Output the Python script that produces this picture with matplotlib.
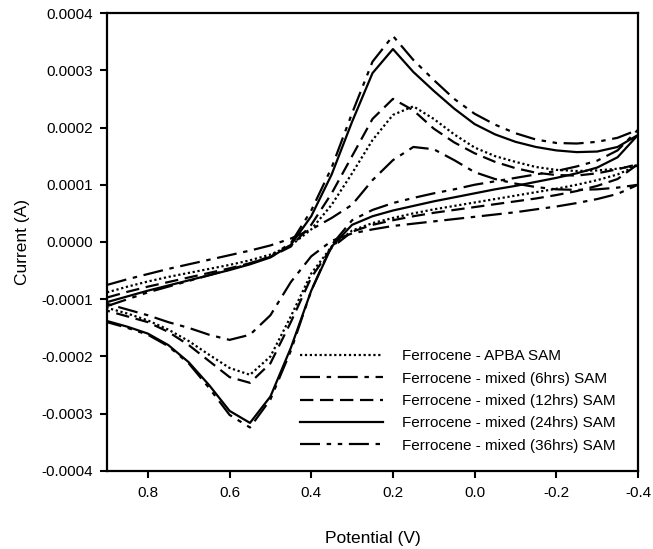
import matplotlib
matplotlib.use("Agg")
import matplotlib.pyplot as plt
from matplotlib.ticker import FuncFormatter, FixedLocator

plt.rcParams['font.family'] = ['Liberation Sans', 'DejaVu Sans']

# Potential grid (V), scan 0.9 -> -0.4 (forward) and back (return)
potential = [0.90, 0.85, 0.80, 0.75, 0.70, 0.65, 0.60, 0.55, 0.50, 0.45, 0.40,
             0.35, 0.30, 0.25, 0.20, 0.15, 0.10, 0.05, 0.00, -0.05, -0.10,
             -0.15, -0.20, -0.25, -0.30, -0.35, -0.40]

# Currents in units of 1e-4 A (same order as potential)
apba_fwd = [-0.88, -0.78, -0.69, -0.61, -0.54, -0.47, -0.40, -0.32, -0.22, -0.06, 0.22,
            0.65, 1.20, 1.78, 2.22, 2.37, 2.15, 1.88, 1.65, 1.50, 1.40,
            1.31, 1.26, 1.24, 1.25, 1.28, 1.34]
apba_rev = [-1.15, -1.25, -1.37, -1.53, -1.73, -1.97, -2.20, -2.32, -2.00, -1.30, -0.55,
            -0.08, 0.20, 0.33, 0.42, 0.50, 0.57, 0.63, 0.69, 0.75, 0.81,
            0.87, 0.93, 1.00, 1.08, 1.18, 1.34]

h6_fwd = [-0.75, -0.65, -0.56, -0.47, -0.39, -0.31, -0.23, -0.15, -0.06, 0.06, 0.22,
          0.42, 0.65, 1.08, 1.43, 1.66, 1.62, 1.43, 1.22, 1.10, 1.02,
          0.96, 0.92, 0.91, 0.92, 0.95, 1.00]
h6_rev = [-1.08, -1.18, -1.28, -1.40, -1.50, -1.62, -1.71, -1.62, -1.28, -0.70, -0.25,
          0.02, 0.15, 0.22, 0.28, 0.32, 0.36, 0.40, 0.44, 0.48, 0.52,
          0.57, 0.62, 0.68, 0.75, 0.84, 1.00]

h12_fwd = [-0.97, -0.87, -0.78, -0.70, -0.62, -0.54, -0.46, -0.37, -0.26, -0.08, 0.30,
           0.85, 1.50, 2.15, 2.50, 2.30, 1.98, 1.74, 1.55, 1.40, 1.29,
           1.21, 1.17, 1.16, 1.20, 1.27, 1.36]
h12_rev = [-1.20, -1.30, -1.40, -1.57, -1.80, -2.08, -2.36, -2.46, -2.12, -1.40, -0.62,
           -0.10, 0.18, 0.30, 0.38, 0.45, 0.51, 0.56, 0.61, 0.66, 0.71,
           0.76, 0.82, 0.89, 0.98, 1.10, 1.36]

h24_fwd = [-1.05, -0.95, -0.85, -0.76, -0.67, -0.58, -0.49, -0.39, -0.27, -0.05, 0.45,
           1.18, 2.10, 2.95, 3.37, 2.97, 2.64, 2.33, 2.06, 1.88, 1.75,
           1.66, 1.60, 1.57, 1.58, 1.66, 1.87]
h24_rev = [-1.38, -1.48, -1.60, -1.80, -2.10, -2.50, -2.95, -3.16, -2.70, -1.85, -0.85,
           -0.08, 0.30, 0.45, 0.55, 0.63, 0.71, 0.78, 0.85, 0.92, 0.98,
           1.05, 1.12, 1.20, 1.30, 1.48, 1.87]

h36_fwd = [-1.12, -1.00, -0.88, -0.78, -0.68, -0.58, -0.48, -0.38, -0.25, -0.02, 0.55,
           1.30, 2.25, 3.15, 3.60, 3.18, 2.83, 2.50, 2.24, 2.05, 1.90,
           1.79, 1.73, 1.72, 1.75, 1.82, 1.96]
h36_rev = [-1.40, -1.50, -1.62, -1.82, -2.12, -2.55, -3.02, -3.24, -2.75, -1.90, -0.85,
           -0.05, 0.38, 0.56, 0.68, 0.77, 0.85, 0.92, 1.00, 1.06, 1.12,
           1.18, 1.24, 1.32, 1.42, 1.60, 1.96]

labels = ["Ferrocene - APBA SAM",
          "Ferrocene - mixed (6hrs) SAM",
          "Ferrocene - mixed (12hrs) SAM",
          "Ferrocene - mixed (24hrs) SAM",
          "Ferrocene - mixed (36hrs) SAM"]

x_ticks = [0.8, 0.6, 0.4, 0.2, 0.0, -0.2, -0.4]
y_ticks = [-0.0004, -0.0003, -0.0002, -0.0001, 0.0, 0.0001, 0.0002, 0.0003, 0.0004]

series = [(apba_fwd, apba_rev), (h6_fwd, h6_rev), (h12_fwd, h12_rev),
          (h24_fwd, h24_rev), (h36_fwd, h36_rev)]
styles = [(0, (1.0, 1.2)),
          (0, (9, 3, 2, 3)),
          (0, (6, 3)),
          '-',
          (0, (9, 3, 2, 3, 2, 3))]

fig = plt.figure(figsize=(6.53, 5.49), dpi=100)
ax = fig.add_axes([0.1639, 0.1421, 0.8131, 0.8342])

for (fwd, rev), ls, lab in zip(series, styles, labels):
    xs = potential + potential[::-1]
    ys = [v * 1e-4 for v in fwd] + [v * 1e-4 for v in rev[::-1]]
    ax.plot(xs, ys, color='black', linestyle=ls, linewidth=1.6, label=lab)

ax.set_xlim(0.9, -0.4)
ax.set_ylim(-0.0004, 0.0004)
ax.xaxis.set_major_locator(FixedLocator(x_ticks))
ax.yaxis.set_major_locator(FixedLocator(y_ticks))
ax.xaxis.set_major_formatter(FuncFormatter(lambda v, p: f"{v:.1f}"))
ax.yaxis.set_major_formatter(FuncFormatter(lambda v, p: f"{v:.4f}"))

for s in ax.spines.values():
    s.set_linewidth(1.6)
ax.tick_params(axis='both', direction='out', length=5, width=1.5, labelsize=11)
ax.tick_params(axis='x', pad=6)
ax.tick_params(axis='y', pad=5)

ax.set_xlabel("Potential (V)", fontsize=12.5, labelpad=22)
ax.set_ylabel("Current (A)", fontsize=12.5, labelpad=8)

leg = ax.legend(loc='upper left', bbox_to_anchor=(0.3635, 0.266), frameon=False,
                handlelength=5.4, handletextpad=1.3,
                labelspacing=0.55, borderpad=0, borderaxespad=0,
                prop={'family': ['Liberation Sans', 'DejaVu Sans'], 'size': 11})

fig.savefig("out.png", dpi=100)
